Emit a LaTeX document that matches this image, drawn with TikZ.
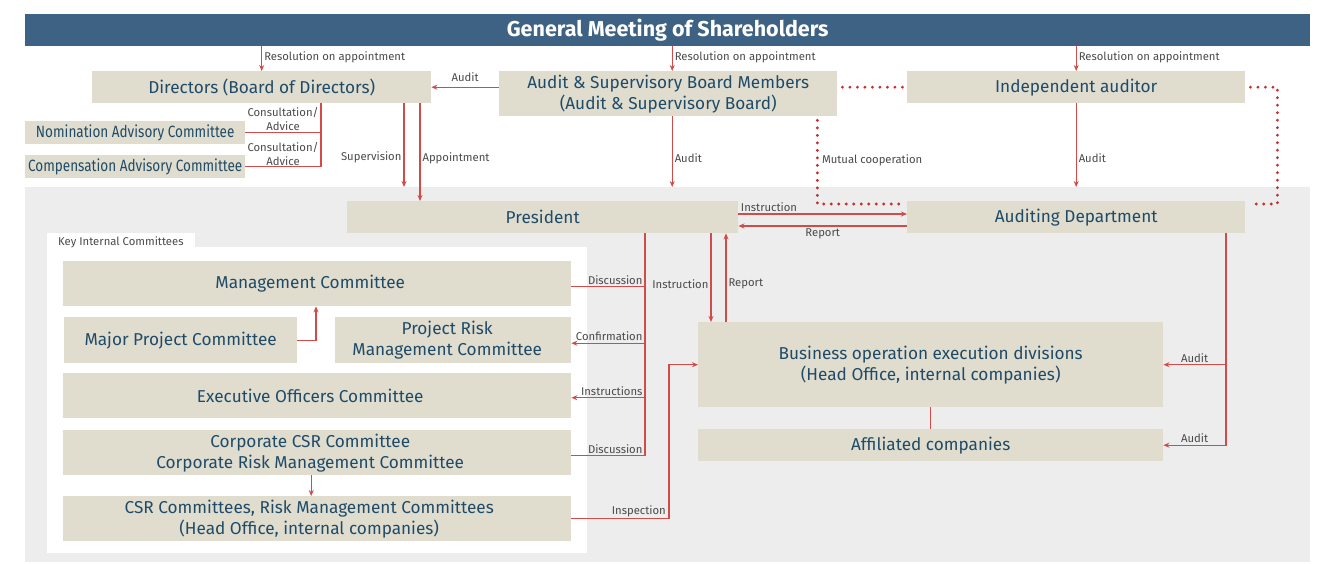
\documentclass[tikz,border=0pt]{standalone}
\usepackage{fontspec}
\setmainfont{Fira Sans}
\newfontfamily\condfam[FakeStretch=0.83]{Fira Sans}
\usetikzlibrary{arrows.meta,calc}

\definecolor{beige}{HTML}{E0DDCF}
\definecolor{navy}{HTML}{1F4B68}
\definecolor{bannerblue}{HTML}{3E6283}
\definecolor{linered}{HTML}{D24A4A}
\definecolor{dotred}{HTML}{C62E2E}
\definecolor{panelgray}{HTML}{EDEDED}
\definecolor{labgray}{HTML}{4A4A4A}

\newcommand\bxfont{\fontsize{17.2}{21}\selectfont}
\newcommand\cndfont{\condfam\fontsize{16.3}{18}\selectfont}
\newcommand\lbfont{\fontsize{11.3}{14}\selectfont}
\newcommand\ttlfont{\fontsize{21.5}{24}\selectfont\bfseries}

\tikzset{
  box/.style={fill=beige, text=navy, inner sep=0pt, anchor=north west, align=center, font=\bxfont},
  boxtext/.style={text=navy, inner sep=0pt, align=center, font=\bxfont},
  panel/.style={fill=panelgray, inner sep=0pt, anchor=north west},
  lab/.style={text=labgray, font=\lbfont, inner sep=2pt, align=center},
  ln/.style={draw=linered, line width=1.1pt},
  arr/.style={draw=linered, line width=1.1pt, -{Stealth[length=6pt,width=5pt]}},
  dots/.style={draw=dotred, line width=3.2pt, line cap=round, dash pattern=on 0pt off 7.5pt}
}

\begin{document}
\begin{tikzpicture}[x=1pt,y=-1pt]
\useasboundingbox (0,0) rectangle (1322,563);

% background panels
\node[panel, minimum width=1285pt, minimum height=375pt] (exec) at (25,187) {};
\node[fill=white, inner sep=0pt, anchor=north west, minimum width=148pt, minimum height=16pt] (keytab) at (47,233) {};
\node[fill=white, inner sep=0pt, anchor=north west, minimum width=540pt, minimum height=306pt] (keybox) at (47,247) {};
\node[lab, anchor=west] at ([xshift=9pt,yshift=-1pt]keytab.west) {Key Internal Committees};

% banner
\node[fill=bannerblue, inner sep=0pt, anchor=north west, minimum width=1285pt, minimum height=32pt,
      text=white, font=\ttlfont] (gm) at (25,14) {General Meeting of Shareholders};

% governance boxes
\node[box, minimum width=339pt, minimum height=32pt] (dir) at (92,71) {Directors (Board of Directors)};
\node[box, minimum width=338pt, minimum height=45pt] (asb) at (499,71) {Audit \& Supervisory Board Members\\(Audit \& Supervisory Board)};
\node[box, minimum width=338pt, minimum height=32pt] (ia) at (907,71) {Independent auditor};
\node[box, font=\cndfont, minimum width=220pt, minimum height=23pt] (nom) at (25,121) {Nomination Advisory Committee};
\node[box, font=\cndfont, minimum width=220pt, minimum height=23pt] (comp) at (25,155) {Compensation Advisory Committee};

% executive boxes
\node[box, minimum width=391pt, minimum height=32pt] (pres) at (347,201) {President};
\node[box, minimum width=338pt, minimum height=32pt] (ad) at (907,201) {Auditing Department};
\node[box, minimum width=465pt, minimum height=85pt] (bo) at (698,322) {Business operation execution divisions\\(Head Office, internal companies)};
\node[box, minimum width=465pt, minimum height=32pt] (aff) at (698,429) {Affiliated companies};

% key internal committees
\node[box, minimum width=508pt, minimum height=45pt] (mc) at (63,261) {};
\node[boxtext] at ([xshift=-7pt]mc.center) {Management Committee};
\node[box, minimum width=233pt, minimum height=46pt] (mpc) at (64,317) {Major Project Committee};
\node[box, minimum width=236pt, minimum height=46pt] (prm) at (335,317) {};
\node[boxtext] at ([xshift=-6pt]prm.center) {Project Risk\\Management Committee};
\node[box, minimum width=508pt, minimum height=45pt] (eoc) at (63,373) {};
\node[boxtext] at ([xshift=-7pt]eoc.center) {Executive Officers Committee};
\node[box, minimum width=508pt, minimum height=45pt] (ccsr) at (63,430) {};
\node[boxtext] at ([xshift=-7pt]ccsr.center) {Corporate CSR Committee\\Corporate Risk Management Committee};
\node[box, minimum width=508pt, minimum height=45pt] (csr) at (63,496) {};
\node[boxtext] at ([xshift=-8pt]csr.center) {CSR Committees, Risk Management Committees\\(Head Office, internal companies)};

% resolutions on appointment
\draw[arr] (gm.south -| dir.north) -- (dir.north) node[pos=0.45, right, lab] {Resolution on appointment};
\coordinate (asbtop) at ([xshift=4pt]asb.north);
\draw[arr] (gm.south -| asbtop) -- (asbtop) node[pos=0.45, right, lab] {Resolution on appointment};
\draw[arr] (gm.south -| ia.north) -- (ia.north) node[pos=0.45, right, lab] {Resolution on appointment};

% audit of the directors
\draw[arr] (asb.west |- dir.east) -- (dir.east) node[midway, above, lab, yshift=3pt] {Audit};

% advisory committees
\coordinate (adv) at ([xshift=229pt]dir.south west);
\draw[ln] (nom.east) -| (adv);
\draw[ln] (comp.east) -| (adv);
\node[lab, inner sep=0pt] at (283,119) {Consultation/\\Advice};
\node[lab, inner sep=0pt] at (283,154) {Consultation/\\Advice};

% supervision and appointment
\coordinate (sv) at ([xshift=312pt]dir.south west);
\coordinate (ap) at ([xshift=328pt]dir.south west);
\draw[arr] (sv) -- (sv |- exec.north) node[pos=0.65, left, lab] {Supervision};
\draw[arr] (ap) -- (ap |- pres.north) node[pos=0.56, right, lab] {Appointment};

% audits of the executive side
\coordinate (asbbot) at ([xshift=4pt]asb.south);
\draw[arr] (asbbot) -- (asbbot |- exec.north) node[pos=0.59, right, lab] {Audit};
\draw[arr] (ia.south) -- (ia.south |- exec.north) node[pos=0.65, right, lab] {Audit};

% mutual cooperation
\draw[dots] ([xshift=5pt]asb.east |- ia.west) -- ([xshift=-4pt]ia.west);
\draw[dots] ([xshift=-20pt,yshift=-4pt]asb.south east) |- ([xshift=-3pt,yshift=-3pt]ad.north west)
  node[pos=0.24, right, lab, xshift=1pt] {Mutual cooperation};
\draw[dots] ([xshift=5pt]ia.east) -| ([xshift=32pt,yshift=-3pt]ad.north east) -- ([xshift=4pt,yshift=-3pt]ad.north east);

% president and auditing department
\draw[arr] ([yshift=-13pt]pres.north east) -- ([yshift=-13pt]ad.north west)
  node[pos=0, anchor=south west, lab] {Instruction};
\draw[arr] ([yshift=-25pt]ad.north west) -- ([yshift=-25pt]pres.north east)
  node[midway, below, lab] {Report};

% president to the committees
\coordinate (sp) at ([xshift=298pt]pres.south west);
\coordinate (mcE) at ([yshift=-3pt]mc.east);
\coordinate (prmE) at ([yshift=-3pt]prm.east);
\coordinate (eocE) at ([yshift=-2pt]eoc.east);
\coordinate (ccsrE) at ([yshift=-3pt]ccsr.east);
\draw[ln] (sp) |- (ccsrE) node[pos=0.5, anchor=south east, lab] {Discussion};
\draw[ln] (sp |- mcE) -- (mcE) node[pos=0, anchor=south east, lab] {Discussion};
\draw[arr] (sp |- prmE) -- (prmE) node[pos=0, anchor=south east, lab] {Confirmation};
\draw[arr] (sp |- eocE) -- (eocE) node[pos=0, anchor=south east, lab] {Instructions};

% president and business operation
\coordinate (pi) at ([xshift=364pt]pres.south west);
\coordinate (pr) at ([xshift=379pt]pres.south west);
\draw[arr] (pi) -- (pi |- bo.north) node[pos=0.57, left, lab] {Instruction};
\draw[arr] (pr |- bo.north) -- (pr) node[pos=0.43, right, lab] {Report};

% inspection
\coordinate (ip) at ([xshift=-29pt]bo.west);
\draw[arr] (csr.east) -| (ip) -- (bo.west);
\node[lab, anchor=south east] at ([xshift=-1pt]csr.east -| ip) {Inspection};

% internal committee links
\coordinate (mcb) at ([xshift=253pt]mc.south west);
\draw[arr] (mpc.east) -| (mcb);
\draw[arr] ([xshift=-6pt]ccsr.south) -- ([xshift=-6pt]csr.north);

% business operation and affiliates
\draw[ln] (bo.south) -- (aff.north);

% auditing department audits
\coordinate (as) at ([xshift=319pt]ad.south west);
\draw[arr] (as) |- (aff.east) node[pos=0.75, above, lab] {Audit};
\draw[arr] (as |- bo.east) -- (bo.east) node[midway, above, lab] {Audit};

\end{tikzpicture}
\end{document}
